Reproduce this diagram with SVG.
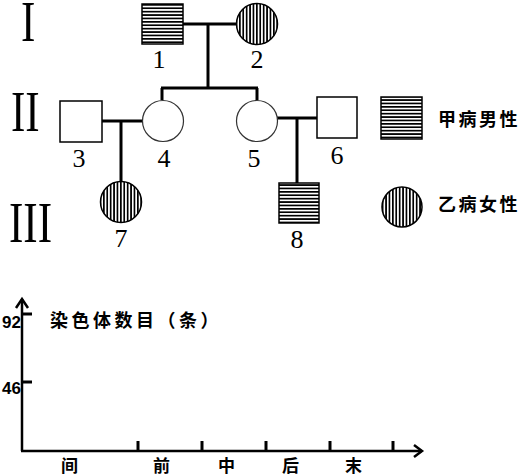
<svg xmlns="http://www.w3.org/2000/svg" width="523" height="476" viewBox="0 0 523 476">
<defs>
<pattern id="hz" patternUnits="userSpaceOnUse" width="10" height="3.4" y="4"><rect x="0" y="0" width="10" height="1.7" fill="#000"/></pattern>
<pattern id="vt" patternUnits="userSpaceOnUse" width="3.4" height="10" x="1"><rect x="0" y="0" width="1.7" height="10" fill="#000"/></pattern>
</defs>
<style>
.roman{font-family:"Liberation Serif","Times New Roman",serif;font-size:56px;fill:#000}
.num{font-family:"Liberation Serif","Times New Roman",serif;font-size:26px;fill:#000;text-anchor:middle}
.cjk{font-family:"Noto Sans CJK SC","Noto Sans CJK JP",sans-serif;font-weight:bold;fill:#000}
.axn{font-family:"Liberation Sans",Arial,sans-serif;font-weight:bold;font-size:17px;fill:#000}
.ln{stroke:#000;stroke-width:3;fill:none}
.sq{fill:#fff;stroke:#000;stroke-width:1.5}
.ci{fill:#fff;stroke:#333;stroke-width:1.2}
.hsq{fill:url(#hz);stroke:#000;stroke-width:1.5}
.vci{fill:url(#vt);stroke:#000;stroke-width:1.5}
.ax{stroke:#000;stroke-width:2.5;fill:none}
</style>
<g id="gen-labels">
<text class="roman" transform="translate(21,41) scale(0.77,1)">I</text>
<text class="roman" transform="translate(11,131) scale(0.77,1)">II</text>
<text class="roman" transform="translate(9,242) scale(0.77,1)">III</text>
</g>
<g id="connectors">
<line class="ln" x1="183" y1="24" x2="237" y2="24"/>
<line class="ln" x1="208" y1="24" x2="208" y2="88"/>
<line class="ln" x1="161" y1="88" x2="258" y2="88"/>
<line class="ln" x1="162" y1="88" x2="162" y2="100"/>
<line class="ln" x1="257" y1="88" x2="257" y2="100"/>
<line class="ln" x1="102" y1="121" x2="142" y2="121"/>
<line class="ln" x1="121" y1="121" x2="121" y2="182"/>
<line class="ln" x1="277" y1="118" x2="317" y2="118"/>
<line class="ln" x1="297" y1="118" x2="297" y2="183"/>
</g>
<g id="n1"><rect class="hsq" x="142" y="4" width="41" height="40"/><text class="num" x="159" y="68">1</text></g>
<g id="n2"><circle class="vci" cx="257" cy="24" r="20.5"/><text class="num" x="257" y="68">2</text></g>
<g id="n3"><rect class="sq" x="60" y="101" width="42" height="41"/><text class="num" x="79" y="167">3</text></g>
<g id="n4"><circle class="ci" cx="163" cy="121" r="20.5"/><text class="num" x="164" y="167">4</text></g>
<g id="n5"><circle class="ci" cx="257" cy="121" r="20.5"/><text class="num" x="254" y="167">5</text></g>
<g id="n6"><rect class="sq" x="317" y="97" width="40" height="41"/><text class="num" x="337" y="164">6</text></g>
<g id="n7"><circle class="vci" cx="121" cy="202" r="20.5"/><text class="num" x="121" y="247">7</text></g>
<g id="n8"><rect class="hsq" x="279" y="183" width="40" height="40"/><text class="num" x="297" y="248">8</text></g>
<g id="legend">
<rect class="hsq" x="381" y="97" width="41" height="42"/>
<text class="cjk" x="438" y="126" font-size="18" letter-spacing="2.5">甲病男性</text>
<circle class="vci" cx="402" cy="207" r="20"/>
<text class="cjk" x="438" y="211" font-size="18" letter-spacing="2.5">乙病女性</text>
</g>
<g id="chart">
<line class="ax" x1="22" y1="451" x2="22" y2="299"/>
<polyline class="ax" points="16,308 22,299 28,308"/>
<line class="ax" x1="21" y1="451" x2="422" y2="451"/>
<polyline class="ax" points="414,445 422,451 414,457"/>
<line class="ln" x1="22" y1="314" x2="32" y2="314"/>
<line class="ln" x1="22" y1="382" x2="32" y2="382"/>
<line class="ln" x1="138" y1="441" x2="138" y2="451"/>
<line class="ln" x1="202" y1="441" x2="202" y2="451"/>
<line class="ln" x1="266" y1="441" x2="266" y2="451"/>
<line class="ln" x1="330" y1="441" x2="330" y2="451"/>
<line class="ln" x1="393" y1="441" x2="393" y2="451"/>
<text class="axn" x="2" y="328">92</text>
<text class="axn" x="2" y="394">46</text>
<text class="cjk" x="50" y="327" font-size="18" letter-spacing="3.5">染色体数目（条）</text>
<text class="cjk" x="61" y="472" font-size="17">间</text>
<text class="cjk" x="153" y="472" font-size="17">前</text>
<text class="cjk" x="218" y="472" font-size="17">中</text>
<text class="cjk" x="282" y="472" font-size="17">后</text>
<text class="cjk" x="345" y="472" font-size="17">末</text>
</g>
</svg>
